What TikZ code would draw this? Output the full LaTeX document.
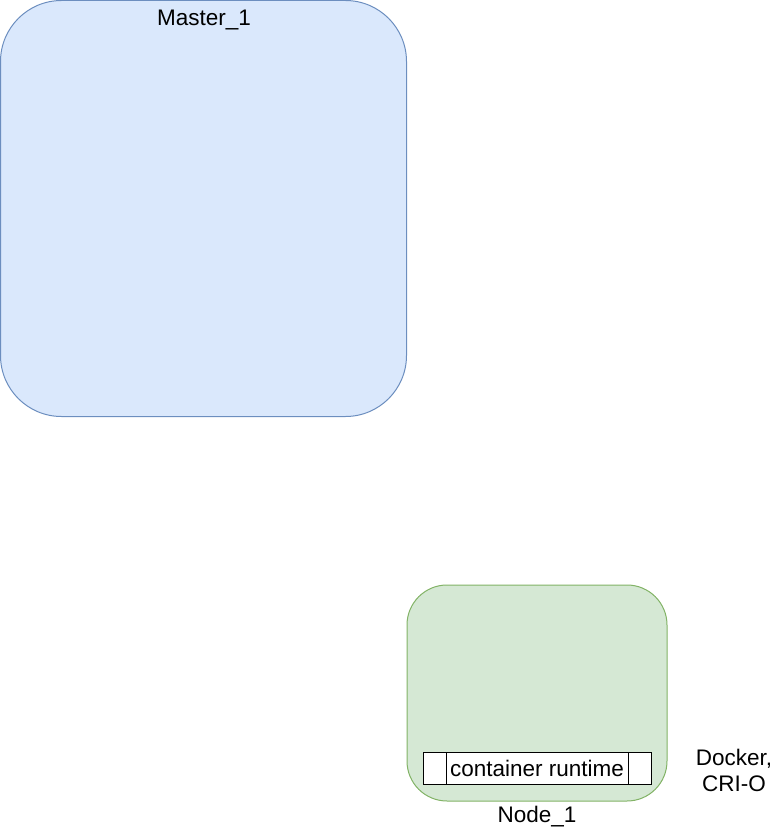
\documentclass[tikz,border=0pt]{standalone}
\usepackage{fontspec}
\setmainfont{Liberation Sans}
\begin{document}
\begin{tikzpicture}[x=1pt,y=-1pt,
  lbl/.style={font=\fontsize{22.5}{26}\selectfont, inner sep=0pt, align=center},
  masterbox/.style={draw=masterline, fill=masterfill, line width=1pt, rounded corners=61pt, minimum width=406pt, minimum height=416pt, inner sep=0pt},
  nodebox/.style={draw=nodeline, fill=nodefill, line width=1pt, rounded corners=40pt, minimum width=260pt, minimum height=216pt, inner sep=0pt},
  procbox/.style={draw=black, fill=white, line width=1pt, minimum width=228pt, minimum height=32pt, inner sep=0pt}
]
\definecolor{masterfill}{HTML}{DAE8FC}
\definecolor{masterline}{HTML}{6C8EBF}
\definecolor{nodefill}{HTML}{D5E8D4}
\definecolor{nodeline}{HTML}{82B366}
\useasboundingbox (0,0) rectangle (775,832);
\node[masterbox] (master) at (203.5,208.5) {};
\node[lbl, anchor=base] (masterlbl) at (204,26) {Master\_1};
\node[nodebox] (node1) at (537,693) {};
\node[procbox] (runtime) at (537,768) {};
\draw (446,752) -- (446,784) (628,752) -- (628,784);
\node[lbl, anchor=base] (runtimelbl) at (537,776) {container runtime};
\node[lbl, anchor=base] (node1lbl) at (537,822) {Node\_1};
\node[lbl, anchor=center, baseline] (docker) at (734,770) {Docker,\\CRI-O};
\end{tikzpicture}
\end{document}
